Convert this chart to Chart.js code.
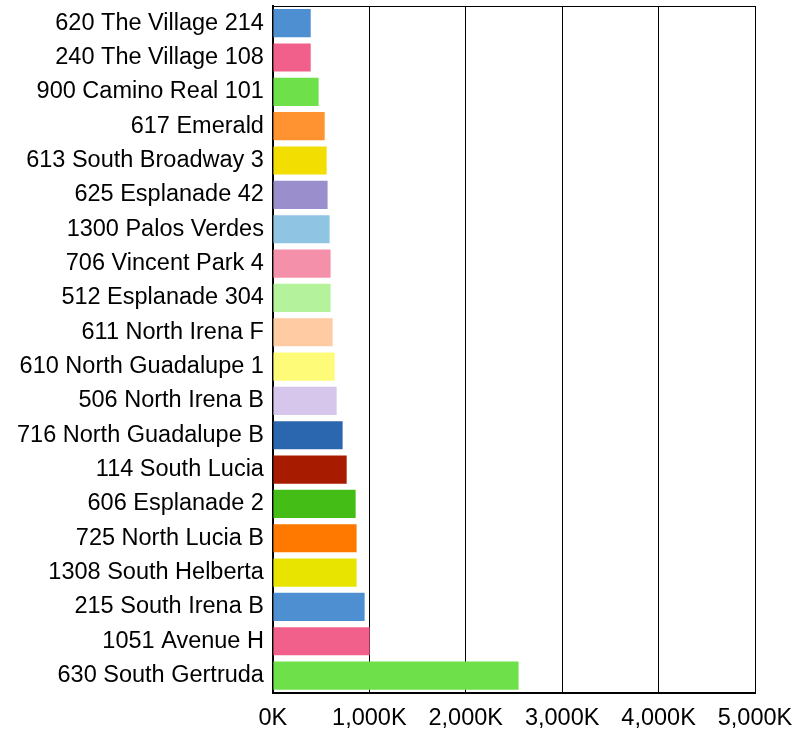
<!DOCTYPE html>
<html>
<head>
<meta charset="utf-8">
<script src="https://cdn.jsdelivr.net/npm/chart.js@4"></script>
<style>
  html, body { margin: 0; padding: 0; background: #fff; }
  #wrap { width: 810px; height: 729px; }
</style>
</head>
<body>
<div id="wrap"><canvas id="chart"></canvas></div>
<script>
// properties, top to bottom
const properties = [
  '620 The Village 214', '240 The Village 108', '900 Camino Real 101', '617 Emerald',
  '613 South Broadway 3', '625 Esplanade 42', '1300 Palos Verdes', '706 Vincent Park 4',
  '512 Esplanade 304', '611 North Irena F', '610 North Guadalupe 1', '506 North Irena B',
  '716 North Guadalupe B', '114 South Lucia', '606 Esplanade 2', '725 North Lucia B',
  '1308 South Helberta', '215 South Irena B', '1051 Avenue H', '630 South Gertruda'
];
// values in thousands
const values = [392, 392, 474, 537, 557, 567, 588, 598, 598, 619, 640, 661, 723, 765, 858, 868, 868, 951, 1003, 2548];
const barColors = [
  '#4e8fd1', '#f0608a', '#6ee04a', '#ff9331', '#f2de00', '#9a8fcc', '#8fc4e2', '#f590ab',
  '#b4f29c', '#ffcba2', '#fdfb78', '#d6c6ec', '#2a67ae', '#a71c00', '#44be16', '#ff7800',
  '#e8e400', '#4e8fd1', '#f0608a', '#6ee04a'
];
const xTicks = [0, 1000, 2000, 3000, 4000, 5000];

const frame = {
  id: 'frame',
  afterDraw(chart) {
    const { ctx, chartArea: a } = chart;
    ctx.save();
    ctx.strokeStyle = '#000';
    ctx.lineWidth = 1;
    ctx.beginPath();
    ctx.moveTo(a.left, a.top + 0.5);
    ctx.lineTo(a.right, a.top + 0.5);
    ctx.stroke();
    ctx.restore();
  }
};

const font = { family: "'Liberation Sans', Arial, sans-serif", size: 23.5 };

new Chart(document.getElementById('chart'), {
  type: 'bar',
  data: {
    labels: properties,
    datasets: [{ data: values, backgroundColor: barColors, borderWidth: 0, barPercentage: 0.82, categoryPercentage: 1 }]
  },
  options: {
    indexAxis: 'y',
    responsive: true,
    maintainAspectRatio: false,
    animation: false,
    layout: { padding: { top: 6, right: 55, left: 8, bottom: -16 } },
    plugins: { legend: { display: false }, tooltip: { enabled: false } },
    scales: {
      x: {
        min: 0, max: 5000,
        afterBuildTicks: s => { s.ticks = xTicks.map(v => ({ value: v })); },
        grid: { color: '#000', lineWidth: 1, drawTicks: false },
        border: { color: '#000', width: 2 },
        ticks: {
          color: '#000', padding: 12, maxRotation: 0,
          font: font,
          callback: v => v.toLocaleString('en-US') + 'K'
        }
      },
      y: {
        afterFit: s => { s.paddingTop = 0; s.paddingBottom = 0; },
        grid: { display: false, drawTicks: false },
        border: { color: '#000', width: 2 },
        ticks: {
          color: '#000', padding: 9, autoSkip: false,
          font: font
        }
      }
    }
  },
  plugins: [frame]
});
</script>
</body>
</html>
